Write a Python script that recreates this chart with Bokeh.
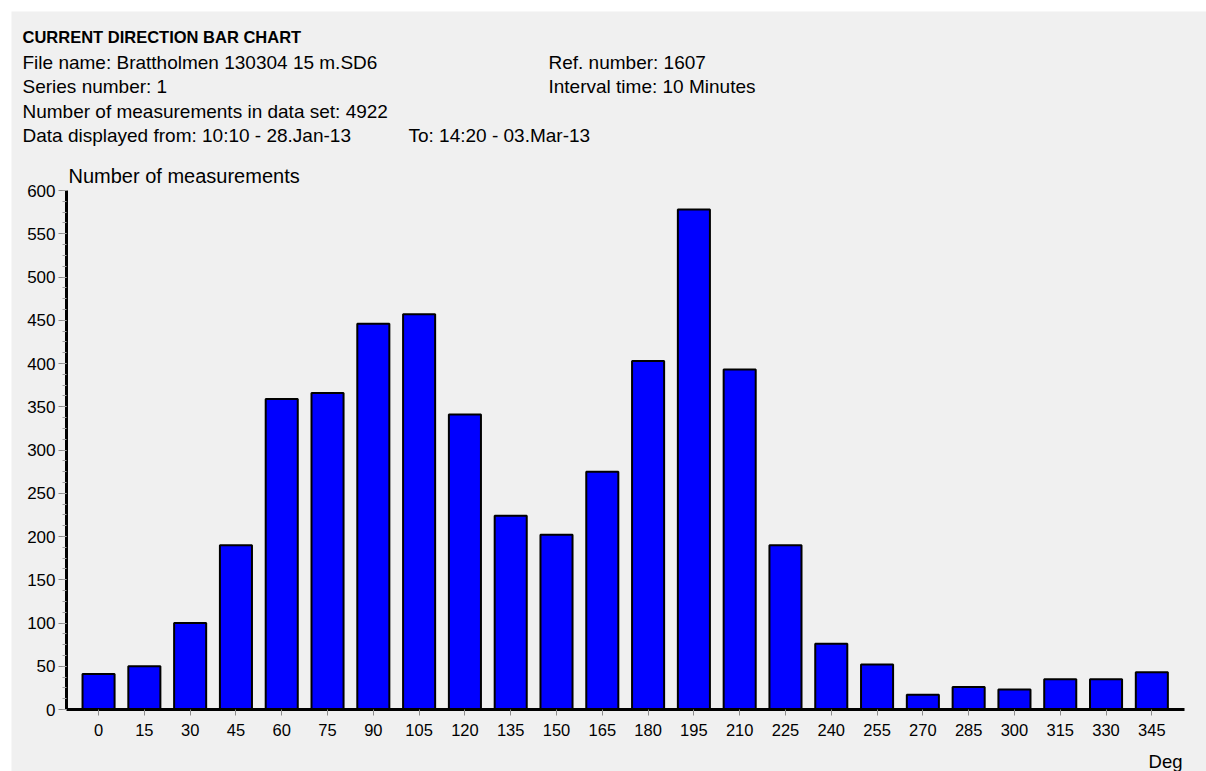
from bokeh.plotting import figure
from bokeh.models import Range1d, FixedTicker, SingleIntervalTicker, Label, ColumnDataSource
from bokeh.embed import file_html
from bokeh.resources import INLINE

# ---- data ----
directions = [0, 15, 30, 45, 60, 75, 90, 105, 120, 135, 150, 165,
              180, 195, 210, 225, 240, 255, 270, 285, 300, 315, 330, 345]
counts = [41, 50, 100, 190, 359, 366, 446, 457, 341, 224, 202, 275,
          403, 578, 393, 190, 76, 52, 17, 26, 23, 35, 35, 43]
y_tick_step = 50
y_max = 600

title_text = "CURRENT DIRECTION BAR CHART"
left_lines = [
    "File name: Brattholmen 130304 15 m.SD6",
    "Series number: 1",
    "Number of measurements in data set: 4922",
    "Data displayed from: 10:10 - 28.Jan-13",
]
right_lines = ["Ref. number: 1607", "Interval time: 10 Minutes"]
to_text = "To: 14:20 - 03.Mar-13"
y_label = "Number of measurements"
x_label = "Deg"

FONT = "Liberation Sans"
GREY = "#f0f0f0"
PAD = 11                       # white strip at top / left of the page
PAGE_W, PAGE_H = 1206, 771

# axis placement on the page (pixels)
AX_LEFT, AX_RIGHT = 66, 1184   # x extent of the horizontal axis
AX_TOP, AX_BOTTOM = 190, 709   # y of the 600 tick and the 0 tick
X0, X1 = -10.5, 355.7          # data values at AX_LEFT / AX_RIGHT

PXX = (AX_RIGHT - AX_LEFT) / (X1 - X0)
PXY = (AX_BOTTOM - AX_TOP) / y_max

def dx(px):
    return X0 + (px - AX_LEFT) / PXX

def dy(py):
    return (AX_BOTTOM - py) / PXY

p = figure(width=PAGE_W - PAD, height=PAGE_H - PAD,
           x_range=Range1d(dx(PAD), dx(PAGE_W)),
           y_range=Range1d(dy(PAGE_H), dy(PAD)),
           min_border=0, min_border_left=0, min_border_right=0,
           min_border_top=0, min_border_bottom=0,
           margin=(PAD, 0, 0, PAD),
           output_backend="svg", toolbar_location=None)
p.title.visible = False
p.background_fill_color = GREY
p.border_fill_color = GREY
p.outline_line_color = None
p.xgrid.visible = False
p.ygrid.visible = False

src = ColumnDataSource(dict(x=directions, top=counts))
p.vbar(x="x", top="top", bottom=0, width=10.5, source=src,
       fill_color="#0000ff", line_color="black", line_width=2)

xa = p.xaxis[0]
xa.fixed_location = 0
xa.bounds = (X0, X1)
xa.ticker = FixedTicker(ticks=directions, minor_ticks=[])
xa.axis_line_width = 3
xa.axis_line_color = "black"
xa.major_tick_line_color = "#8c8c8c"
xa.major_tick_in = 0
xa.major_tick_out = 6
xa.minor_tick_line_color = None
xa.major_label_text_font = FONT
xa.major_label_text_font_size = "16.5px"
xa.major_label_text_color = "black"
xa.major_label_standoff = 8

ya = p.yaxis[0]
ya.fixed_location = X0
ya.bounds = (0, y_max)
ya.ticker = SingleIntervalTicker(interval=y_tick_step, num_minor_ticks=4)
ya.axis_line_width = 3
ya.axis_line_color = "black"
ya.major_tick_line_color = "#8c8c8c"
ya.major_tick_in = 0
ya.major_tick_out = 8
ya.minor_tick_line_color = "#a0a0a0"
ya.minor_tick_in = 0
ya.minor_tick_out = 4
ya.major_label_text_font = FONT
ya.major_label_text_font_size = "17px"
ya.major_label_text_color = "black"
ya.major_label_standoff = 3

def lab(text, px, py, size="19px", bold=False, align="left"):
    p.add_layout(Label(x=dx(px), y=dy(py), text=text, text_font=FONT,
                       text_font_size=size, text_color="black",
                       text_font_style="bold" if bold else "normal",
                       text_baseline="middle", text_align=align))

lab(title_text, 22, 36, size="16.5px", bold=True)
for i, t in enumerate(left_lines):
    lab(t, 22, 61.5 + i * 24.5)
for i, t in enumerate(right_lines):
    lab(t, 548, 61.5 + i * 24.5)
lab(to_text, 408, 61.5 + 3 * 24.5)
lab(y_label, 68, 175.5, size="20px")
lab(x_label, 1182, 761, size="18.5px", align="right")

open("out.html", "w").write(file_html(p, INLINE))
